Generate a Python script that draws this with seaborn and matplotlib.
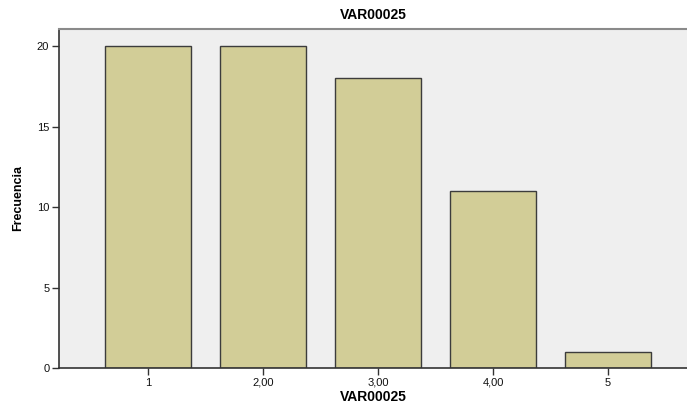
import matplotlib
matplotlib.use("Agg")
import matplotlib.pyplot as plt
import seaborn as sns
import pandas as pd

# Data
categories = ["1", "2,00", "3,00", "4,00", "5"]
frequencies = [20, 20, 18, 11, 1]

data = pd.DataFrame({"VAR00025": categories, "Frecuencia": frequencies})

sns.set_style("white")
plt.rcParams['font.family'] = ['Liberation Sans', 'DejaVu Sans']

fig = plt.figure(figsize=(6.87, 4.05), dpi=100)
ax = fig.add_axes([0.0859, 0.0914, 0.9141, 0.8370])
ax.set_facecolor("#EFEFEF")

sns.barplot(data=data, x="VAR00025", y="Frecuencia", order=categories,
            color="#D2CD97", saturation=1, width=0.75,
            edgecolor="#3C3C3C", linewidth=1.0, ax=ax)

ax.set_xlim(-0.774, 4.687)
ax.set_ylim(0, 21.06)
ax.set_yticks([0, 5, 10, 15, 20])

for side in ["left", "bottom"]:
    ax.spines[side].set_color("#333333")
    ax.spines[side].set_linewidth(1.2)
ax.spines["top"].set_color("#8A8A8A")
ax.spines["top"].set_linewidth(1.5)
ax.spines["right"].set_visible(False)

ax.tick_params(axis="both", direction="out", length=5, width=1,
               color="#333333", labelsize=8, labelcolor="#111111", pad=2)
ax.tick_params(axis="x", bottom=True)
ax.tick_params(axis="y", left=True)

ax.set_title("VAR00025", fontsize=10, fontweight="bold", pad=7, color="black")
ax.set_xlabel("VAR00025", fontsize=10, fontweight="bold", labelpad=2, color="black")
ax.set_ylabel("Frecuencia", fontsize=9, fontweight="bold", labelpad=9, color="black")

fig.savefig("out.png", dpi=100)
